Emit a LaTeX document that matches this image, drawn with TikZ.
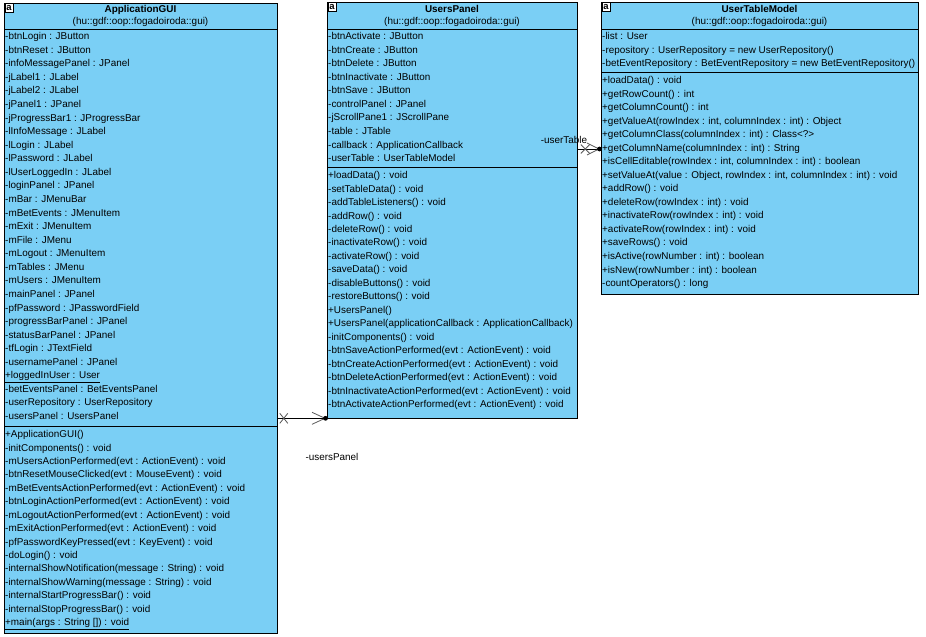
\documentclass[tikz,border=0pt]{standalone}
\usepackage{fontspec}
\setmainfont{Liberation Sans}
\usetikzlibrary{calc}
\definecolor{umlblue}{RGB}{122,207,245}
\definecolor{markgray}{RGB}{90,90,90}
\begin{document}
\begin{tikzpicture}[x=1bp,y=-1bp,
  classbox/.style={draw=black, line width=0.8bp, fill=umlblue, anchor=north west, inner sep=0},
  row/.style={anchor=west, inner sep=0, font=\fontsize{9.95}{12}\selectfont, text height=7.3bp, text depth=2.1bp},
  ctitle/.style={inner sep=0, font=\fontsize{9.95}{12}\selectfont\bfseries},
  cpkg/.style={inner sep=0, font=\fontsize{9.95}{12}\selectfont},
  icon/.style={draw=black, line width=0.6bp, fill=white, inner sep=0, font=\fontsize{9.5}{9}\selectfont\bfseries, anchor=north west, minimum width=8.5bp, minimum height=9bp},
  divider/.style={draw=black, line width=0.8bp},
  assoc/.style={draw=black, line width=0.8bp},
  endmark/.style={draw=markgray, line width=0.8bp},
  enddot/.style={fill=black},
  elabel/.style={inner sep=0, font=\fontsize{9.95}{12}\selectfont}
]
\useasboundingbox (0,0) rectangle (926,637);
\fill[white] (0,0) rectangle (926,637);

% ---------- ApplicationGUI ----------
\node[classbox, minimum width=273bp, minimum height=630bp] (gui) at (4,3) {};
\node[icon] (gui-i) at (4.5,3.5) {a};
\node[ctitle] (gui-t) at (140.5,9.5) {ApplicationGUI};
\node[cpkg] (gui-p) at (140.5,22) {(hu::gdf::oop::fogadoiroda::gui)};
\draw[divider] (4,29.5) -- (277,29.5);
\draw[divider] (4,426) -- (277,426);
\foreach \t [count=\i from 0] in {
 {-btnLogin : JButton},
 {-btnReset : JButton},
 {-infoMessagePanel : JPanel},
 {-jLabel1 : JLabel},
 {-jLabel2 : JLabel},
 {-jPanel1 : JPanel},
 {-jProgressBar1 : JProgressBar},
 {-lInfoMessage : JLabel},
 {-lLogin : JLabel},
 {-lPassword : JLabel},
 {-lUserLoggedIn : JLabel},
 {-loginPanel : JPanel},
 {-mBar : JMenuBar},
 {-mBetEvents : JMenuItem},
 {-mExit : JMenuItem},
 {-mFile : JMenu},
 {-mLogout : JMenuItem},
 {-mTables : JMenu},
 {-mUsers : JMenuItem},
 {-mainPanel : JPanel},
 {-pfPassword : JPasswordField},
 {-progressBarPanel : JPanel},
 {-statusBarPanel : JPanel},
 {-tfLogin : JTextField},
 {-usernamePanel : JPanel},
 {\underline{+loggedInUser : User}},
 {-betEventsPanel : BetEventsPanel},
 {-userRepository : UserRepository},
 {-usersPanel : UsersPanel}}
 \node[row] (gui-a\i) at (5,{37+13.57*\i}) {\t};
\foreach \t [count=\i from 0] in {
 {+ApplicationGUI()},
 {-initComponents() : void},
 {-mUsersActionPerformed(evt : ActionEvent) : void},
 {-btnResetMouseClicked(evt : MouseEvent) : void},
 {-mBetEventsActionPerformed(evt : ActionEvent) : void},
 {-btnLoginActionPerformed(evt : ActionEvent) : void},
 {-mLogoutActionPerformed(evt : ActionEvent) : void},
 {-mExitActionPerformed(evt : ActionEvent) : void},
 {-pfPasswordKeyPressed(evt : KeyEvent) : void},
 {-doLogin() : void},
 {-internalShowNotification(message : String) : void},
 {-internalShowWarning(message : String) : void},
 {-internalStartProgressBar() : void},
 {-internalStopProgressBar() : void},
 {\underline{+main(args : String []) : void}}}
 \node[row] (gui-o\i) at (5,{435+13.43*\i}) {\t};

% ---------- UsersPanel ----------
\node[classbox, minimum width=250bp, minimum height=415.5bp] (users) at (327,2) {};
\node[icon] (users-i) at (327.5,2.5) {a};
\node[ctitle] (users-t) at (452,8.5) {UsersPanel};
\node[cpkg] (users-p) at (452,22) {(hu::gdf::oop::fogadoiroda::gui)};
\draw[divider] (327,29.5) -- (577,29.5);
\draw[divider] (327,167.5) -- (577,167.5);
\foreach \t [count=\i from 0] in {
 {-btnActivate : JButton},
 {-btnCreate : JButton},
 {-btnDelete : JButton},
 {-btnInactivate : JButton},
 {-btnSave : JButton},
 {-controlPanel : JPanel},
 {-jScrollPane1 : JScrollPane},
 {-table : JTable},
 {-callback : ApplicationCallback},
 {-userTable : UserTableModel}}
 \node[row] (users-a\i) at (328,{37+13.56*\i}) {\t};
\foreach \t [count=\i from 0] in {
 {+loadData() : void},
 {-setTableData() : void},
 {-addTableListeners() : void},
 {-addRow() : void},
 {-deleteRow() : void},
 {-inactivateRow() : void},
 {-activateRow() : void},
 {-saveData() : void},
 {-disableButtons() : void},
 {-restoreButtons() : void},
 {+UsersPanel()},
 {+UsersPanel(applicationCallback : ApplicationCallback)},
 {-initComponents() : void},
 {-btnSaveActionPerformed(evt : ActionEvent) : void},
 {-btnCreateActionPerformed(evt : ActionEvent) : void},
 {-btnDeleteActionPerformed(evt : ActionEvent) : void},
 {-btnInactivateActionPerformed(evt : ActionEvent) : void},
 {-btnActivateActionPerformed(evt : ActionEvent) : void}}
 \node[row] (users-o\i) at (328,{176+13.47*\i}) {\t};

% ---------- UserTableModel ----------
\node[classbox, minimum width=317bp, minimum height=292bp] (utm) at (601,2) {};
\node[icon] (utm-i) at (601.5,2.5) {a};
\node[ctitle] (utm-t) at (759.5,8.5) {UserTableModel};
\node[cpkg] (utm-p) at (759.5,22) {(hu::gdf::oop::fogadoiroda::gui)};
\draw[divider] (601,29.5) -- (918,29.5);
\draw[divider] (601,72.5) -- (918,72.5);
\foreach \t [count=\i from 0] in {
 {-list : User},
 {-repository : UserRepository = new UserRepository()},
 {-betEventRepository : BetEventRepository = new BetEventRepository()}}
 \node[row] (utm-a\i) at (602,{37+13.5*\i}) {\t};
\foreach \t [count=\i from 0] in {
 {+loadData() : void},
 {+getRowCount() : int},
 {+getColumnCount() : int},
 {+getValueAt(rowIndex : int, columnIndex : int) : Object},
 {+getColumnClass(columnIndex : int) : Class<?>},
 {+getColumnName(columnIndex : int) : String},
 {+isCellEditable(rowIndex : int, columnIndex : int) : boolean},
 {+setValueAt(value : Object, rowIndex : int, columnIndex : int) : void},
 {+addRow() : void},
 {+deleteRow(rowIndex : int) : void},
 {+inactivateRow(rowIndex : int) : void},
 {+activateRow(rowIndex : int) : void},
 {+saveRows() : void},
 {+isActive(rowNumber : int) : boolean},
 {+isNew(rowNumber : int) : boolean},
 {-countOperators() : long}}
 \node[row] (utm-o\i) at (602,{81+13.53*\i}) {\t};

% ---------- association ApplicationGUI -> UsersPanel ----------
\coordinate (u0) at (gui.east |- users.south west);
\coordinate (u1) at (users.south west);
\draw[assoc] (u0) -- (u1);
\draw[endmark] ($(u0)+(2,-5)$) -- ($(u0)+(10,5)$);
\draw[endmark] ($(u0)+(2,5)$) -- ($(u0)+(10,-5)$);
\draw[endmark] ($(u1)+(-15,-6)$) -- ($(u1)+(-2,0)$) -- ($(u1)+(-15,6)$);
\fill[enddot] ($(u1)+(-1.5,0)$) circle (2.4);
\node[elabel] (lbl-users) at (332,457) {-usersPanel};

% ---------- association UsersPanel -> UserTableModel ----------
\path (users.north east) ++(0,147) coordinate (v0);
\coordinate (v1) at (v0 -| utm.west);
\draw[assoc] (v0) -- (v1);
\draw[endmark] ($(v0)+(3,-4.5)$) -- ($(v0)+(12,4.5)$);
\draw[endmark] ($(v0)+(3,4.5)$) -- ($(v0)+(12,-4.5)$);
\draw[endmark] ($(v1)+(-14,-6)$) -- ($(v1)+(-2,0)$) -- ($(v1)+(-14,6)$);
\fill[enddot] ($(v1)+(-1.5,0)$) circle (2.4);
\node[elabel] (lbl-table) at (564,140) {-userTable};
\end{tikzpicture}
\end{document}
